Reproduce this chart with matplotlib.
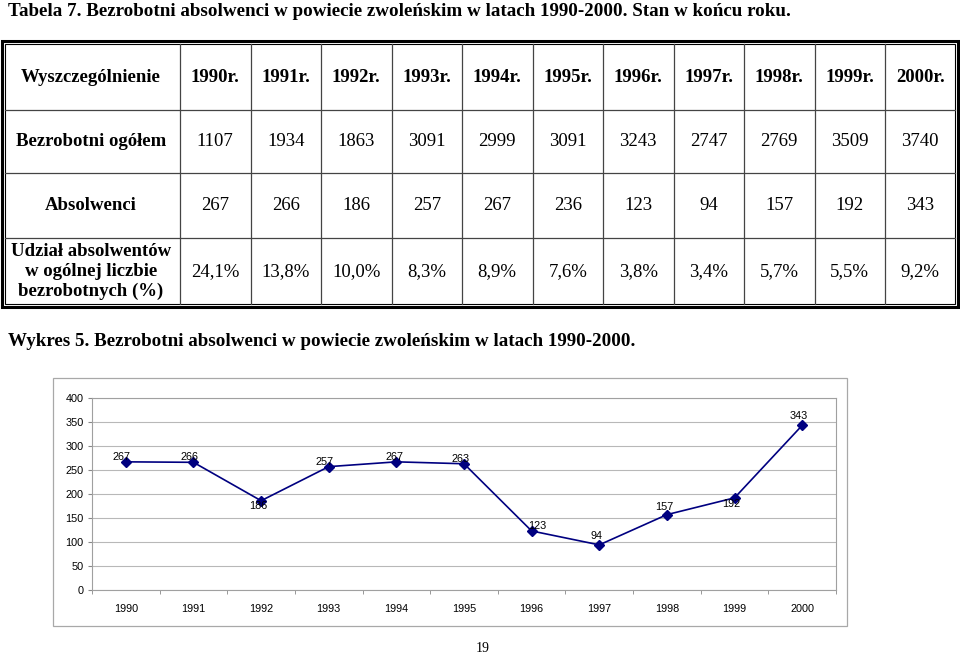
import matplotlib
matplotlib.use("Agg")
import matplotlib.pyplot as plt
from matplotlib.patches import Rectangle

# dane z tabeli
lata_tab = ['1990r.', '1991r.', '1992r.', '1993r.', '1994r.', '1995r.',
            '1996r.', '1997r.', '1998r.', '1999r.', '2000r.']
bezrobotni = [1107, 1934, 1863, 3091, 2999, 3091, 3243, 2747, 2769, 3509, 3740]
absolwenci = [267, 266, 186, 257, 267, 236, 123, 94, 157, 192, 343]
udzial = ['24,1%', '13,8%', '10,0%', '8,3%', '8,9%', '7,6%',
          '3,8%', '3,4%', '5,7%', '5,5%', '9,2%']

# dane z wykresu
lata = ['1990', '1991', '1992', '1993', '1994', '1995',
        '1996', '1997', '1998', '1999', '2000']
absolwenci_wykres = [267, 266, 186, 257, 267, 263, 123, 94, 157, 192, 343]

SERIF = 'Liberation Serif'
SANS = 'Liberation Sans'

fig = plt.figure(figsize=(9.6, 6.55), dpi=100)

# warstwa strony w pikselach
page = fig.add_axes([0, 0, 1, 1])
page.set_xlim(0, 960)
page.set_ylim(655, 0)
page.axis('off')

page.text(8, 11, 'Tabela 7. Bezrobotni absolwenci w powiecie zwoleńskim w latach 1990-2000. Stan w końcu roku.',
          family=SERIF, weight='bold', fontsize=13.7, va='center', ha='left')

# tabela
rows = [42, 110, 173, 238, 305]
col0 = 180
cw = 70.5
page.add_patch(Rectangle((2, 40.5), 955.5, 266.5, fill=False, lw=2.2, ec='black'))
page.add_patch(Rectangle((5, 43.5), 949.5, 260.5, fill=False, lw=0.8, ec='black'))
for y in rows[1:-1]:
    page.plot([5, 954.5], [y, y], color='#444444', lw=0.9)
for i in range(11):
    x = col0 + i * cw
    page.plot([x, x], [43.5, 304], color='#444444', lw=0.9)

fs = 13.5
cy = [(rows[i] + rows[i + 1]) / 2 for i in range(4)]
page.text(91, cy[0] + 1, 'Wyszczególnienie', family=SERIF, weight='bold', fontsize=fs, ha='center', va='center')
page.text(91, cy[1], 'Bezrobotni ogółem', family=SERIF, weight='bold', fontsize=fs, ha='center', va='center')
page.text(91, cy[2], 'Absolwenci', family=SERIF, weight='bold', fontsize=fs, ha='center', va='center')
page.text(91, cy[3], 'Udział absolwentów\nw ogólnej liczbie\nbezrobotnych (%)', family=SERIF, weight='bold',
          fontsize=fs, ha='center', va='center', linespacing=1.2)
for i in range(11):
    xc = col0 + (i + 0.5) * cw
    page.text(xc, cy[0] + 1, lata_tab[i], family=SERIF, weight='bold', fontsize=fs, ha='center', va='center')
    page.text(xc, cy[1], str(bezrobotni[i]), family=SERIF, fontsize=fs, ha='center', va='center')
    page.text(xc, cy[2], str(absolwenci[i]), family=SERIF, fontsize=fs, ha='center', va='center')
    page.text(xc, cy[3], udzial[i], family=SERIF, fontsize=fs, ha='center', va='center')

page.text(8, 342, 'Wykres 5. Bezrobotni absolwenci w powiecie zwoleńskim w latach 1990-2000.',
          family=SERIF, weight='bold', fontsize=13.7, va='center', ha='left')

# ramka wykresu
page.add_patch(Rectangle((53, 378), 794, 248, fill=False, lw=0.9, ec='#a8a8a8'))

page.text(483, 648, '19', family=SERIF, fontsize=10, ha='center', va='center')

# wykres
ax = fig.add_axes([92 / 960, (655 - 590) / 655, (836 - 92) / 960, (590 - 398) / 655])
x = list(range(len(lata)))
ax.plot(x, absolwenci_wykres, color='#000080', lw=1.2, marker='D', markersize=5, zorder=3)
ax.set_xlim(-0.5, len(lata) - 0.5)
ax.set_ylim(0, 400)
ax.set_yticks(range(0, 401, 50))
ax.set_xticks(x)
ax.set_xticklabels(lata)
ax.set_xticks([i - 0.5 for i in range(len(lata) + 1)], minor=True)
ax.tick_params(axis='x', which='major', length=0, pad=10, labelsize=7.8)
ax.tick_params(axis='x', which='minor', length=3, color='#888888')
ax.tick_params(axis='y', length=3, color='#888888', pad=3, labelsize=7.8)
for lab in ax.get_xticklabels() + ax.get_yticklabels():
    lab.set_family(SANS)
ax.grid(axis='y', color='#b8b8b8', lw=0.8)
ax.set_axisbelow(True)
for s in ax.spines.values():
    s.set_color('#a0a0a0')
    s.set_linewidth(0.8)

offsets = [(-4, 5), (-4, 5), (-3, -5), (-4, 5), (-2, 5), (-3, 5),
           (6, 5), (-3, 9), (-3, 8), (-3, -6), (-3, 9)]
for i, v in enumerate(absolwenci_wykres):
    dx, dy = offsets[i]
    ax.annotate(str(v), (i, v), xytext=(dx, dy), textcoords='offset pixels',
                ha='center', va='center', fontsize=7.8, family=SANS, zorder=4)

fig.savefig('out.png', dpi=100)
